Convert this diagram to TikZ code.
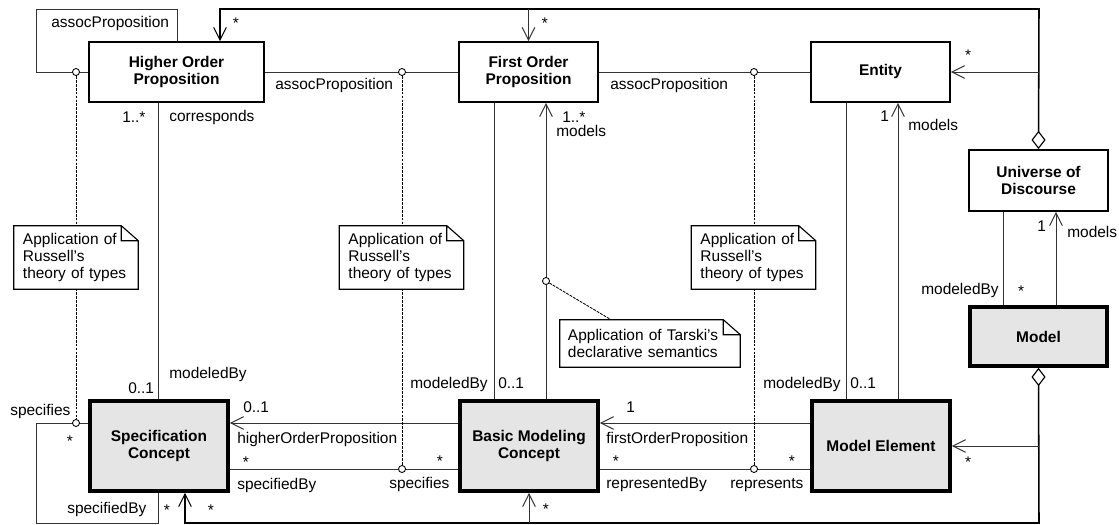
\documentclass[tikz,border=0pt]{standalone}
\usepackage{fontspec}
\setmainfont{Liberation Sans}
\usetikzlibrary{arrows.meta}

\tikzset{
  cls/.style={draw, line width=1.3pt, fill=white, align=center,
    font=\fontsize{11}{12}\selectfont\bfseries,
    minimum width=3.475cm, minimum height=1.5cm, inner sep=0pt},
  core/.style={cls, line width=2.6pt, fill=black!10,
    minimum width=3.45cm, minimum height=2.25cm},
  assoc/.style={draw=black!80, line width=0.7pt},
  nav/.style={assoc, -{Straight Barb[length=9pt,width=9pt,line width=0.7pt]}},
  agg/.style={draw=black, line width=1.1pt,
    {Diamond[open,length=13pt,width=10pt,line width=0.8pt]}-{Straight Barb[length=9pt,width=9pt,line width=0.7pt]}},
  lolli/.style={circle, draw, line width=0.6pt, fill=white, inner sep=0pt, minimum size=5pt},
  noteline/.style={line width=0.6pt, dash pattern=on 2pt off 0.8pt},
  note/.style={fill=white, align=left, inner xsep=0.225cm, inner ysep=0pt,
    text width=2.65cm, minimum height=1.575cm, font=\fontsize{11}{11.8}\selectfont},
  lbl/.style={anchor=base west, inner sep=0pt},
  mult/.style={anchor=base, inner sep=0pt}
}

\begin{document}
\begin{tikzpicture}[x=0.025cm, y=-0.025cm, font=\fontsize{11}{12}\selectfont]
\useasboundingbox (0,0) rectangle (1119,525);

% classes
\node[cls, minimum width=4.375cm] (hop) at (176.5,72) {Higher Order\\Proposition};
\node[cls] (fop) at (528.5,72) {First Order\\Proposition};
\node[cls] (entity) at (880.5,72) {Entity};
\node[cls, minimum height=1.525cm] (uod) at (1038.5,180.5) {Universe of\\Discourse};
\node[core, minimum width=3.425cm, minimum height=1.475cm] (model) at (1038.5,336.5) {Model};
\node[core] (spec) at (159,446) {Specification\\Concept};
\node[core] (bmc) at (529,446) {Basic Modeling\\Concept};
\node[core] (melem) at (881,446) {Model Element};

\coordinate (topj) at (1039,9);
\coordinate (botj) at (1039,523);

% associations
\draw[assoc] (hop.west) -| (36,9) -| (hop.north -| 177,0);
\draw[assoc] (spec.west |- 0,423) -| (36,523) -| (spec.south -| 158,0);
\draw[assoc] (hop.east) -- (fop.west);
\draw[assoc] (fop.east) -- (entity.west);
\draw[assoc] (hop.south -| 158,0) -- (spec.north -| 158,0);
\draw[assoc] (fop.south -| 494,0) -- (bmc.north -| 494,0);
\draw[nav] (bmc.north -| 546,0) -- (fop.south -| 546,0);
\draw[assoc] (entity.south -| 846,0) -- (melem.north -| 846,0);
\draw[nav] (melem.north -| 898,0) -- (entity.south -| 898,0);
\draw[assoc] (uod.south -| 1003,0) -- (model.north -| 1003,0);
\draw[nav] (model.north -| 1056,0) -- (uod.south -| 1056,0);
\draw[nav] (bmc.west |- 0,423) -- (spec.east |- 0,423);
\draw[assoc] (spec.east |- 0,469) -- (bmc.west |- 0,469);
\draw[nav] (melem.west |- 0,423) -- (bmc.east |- 0,423);
\draw[assoc] (bmc.east |- 0,469) -- (melem.west |- 0,469);

% aggregations
\draw[agg] (uod.north) -- (topj) -| (hop.north -| 220,0);
\draw[nav] (topj -| fop.north) -- (fop.north);
\draw[nav] (topj |- entity.east) -- (entity.east);
\draw[agg] (model.south) -- (botj) -| (spec.south -| 185,0);
\draw[nav] (botj |- melem.east) -- (melem.east);
\draw[nav] (botj -| bmc.south) -- (bmc.south);

% notes
\node[lolli] (lA1) at (76,72) {};
\node[lolli] (lA2) at (76,423) {};
\node[lolli] (lB1) at (402,72) {};
\node[lolli] (lB2) at (402,469) {};
\node[lolli] (lC1) at (754,72) {};
\node[lolli] (lC2) at (754,469) {};
\node[lolli] (lT) at (546,281) {};
\draw[noteline] (lA1) -- (lA2);
\draw[noteline] (lB1) -- (lB2);
\draw[noteline] (lC1) -- (lC2);

\node[note] (noteA) at (76,257.5) {Application of\\Russell's\\theory of types};
\node[note] (noteB) at (401.5,257.5) {Application of\\Russell's\\theory of types};
\node[note] (noteC) at (753.5,257.5) {Application of\\Russell's\\theory of types};
\node[note, text width=4.1cm, inner xsep=0.2cm, minimum height=1.175cm] (noteT) at (650,343.5) {Application of Tarski's\\declarative semantics};
\draw[noteline] (lT) -- (noteT.north -| 611,0);
\foreach \n in {noteA,noteB,noteC,noteT}
  \draw[line width=0.8pt] (\n.north west) -- ([xshift=-0.425cm]\n.north east)
    -- ([yshift=-0.375cm]\n.north east) -- (\n.south east) -- (\n.south west) -- cycle
    ([xshift=-0.425cm]\n.north east) |- ([yshift=-0.375cm]\n.north east);

% roles
\node[lbl] (r1) at (51,28) {assocProposition};
\node[lbl] (r2) at (275,90) {assocProposition};
\node[lbl] (r3) at (610,90) {assocProposition};
\node[lbl] (r4) at (122,123) {1..*};
\node[lbl] (r5) at (169,122) {corresponds};
\node[lbl] (r6) at (562,123) {1..*};
\node[lbl] (r7) at (556,137) {models};
\node[lbl] (r8) at (880,122) {1};
\node[lbl] (r9) at (908,131) {models};
\node[lbl] (r10) at (1037,232) {1};
\node[lbl] (r11) at (1067,238) {models};
\node[lbl] (r12) at (921,294) {modeledBy};
\node[lbl] (r13) at (169,378) {modeledBy};
\node[lbl] (r14) at (128,393) {0..1};
\node[lbl] (r15) at (410,388) {modeledBy};
\node[lbl] (r16) at (498,388) {0..1};
\node[lbl] (r17) at (763,388) {modeledBy};
\node[lbl] (r18) at (850,388) {0..1};
\node[lbl] (r19) at (243,412) {0..1};
\node[lbl] (r20) at (237,443) {higherOrderProposition};
\node[lbl] (r21) at (237,489) {specifiedBy};
\node[lbl] (r22) at (389,488) {specifies};
\node[lbl] (r23) at (626,412) {1};
\node[lbl] (r24) at (606,443) {firstOrderProposition};
\node[lbl] (r25) at (606,488) {representedBy};
\node[lbl] (r26) at (730,488) {represents};
\node[lbl] (r27) at (10,415) {specifies};
\node[lbl] (r28) at (67,513) {specifiedBy};

% multiplicities
\node[mult] (m1) at (236,29) {*};
\node[mult] (m2) at (545,29) {*};
\node[mult] (m3) at (968,61) {*};
\node[mult] (m4) at (1021,296) {*};
\node[mult] (m5) at (70,446) {*};
\node[mult] (m6) at (167,515) {*};
\node[mult] (m7) at (211,515) {*};
\node[mult] (m8) at (246,467) {*};
\node[mult] (m9) at (440,466) {*};
\node[mult] (m10) at (546,514) {*};
\node[mult] (m11) at (616,466) {*};
\node[mult] (m12) at (792,466) {*};
\node[mult] (m13) at (968,467) {*};
\end{tikzpicture}
\end{document}
